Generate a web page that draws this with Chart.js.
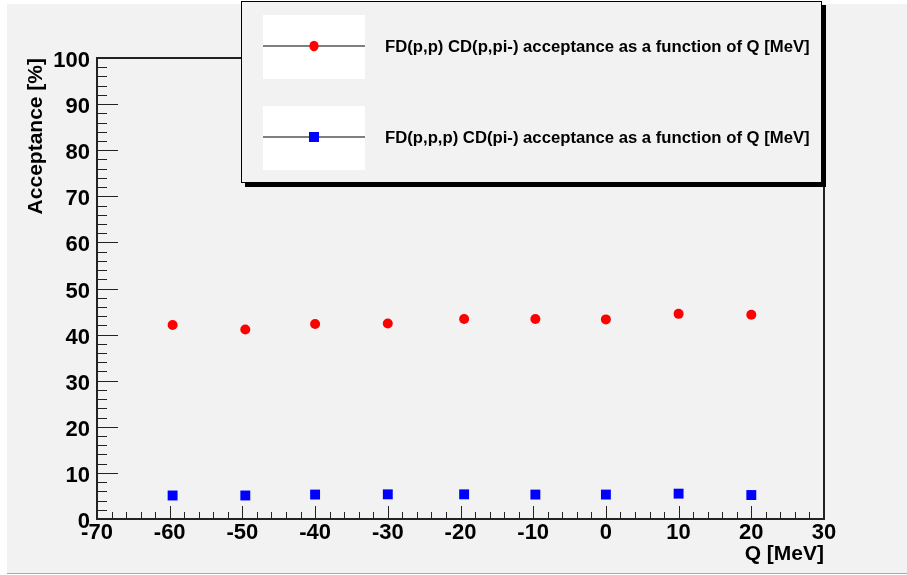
<!DOCTYPE html>
<html>
<head>
<meta charset="utf-8">
<script src="https://cdn.jsdelivr.net/npm/chart.js@4"></script>
<style>
  body { margin: 0; background: #fff; }
  canvas { display: block; }
</style>
</head>
<body>
<canvas id="myChart" width="907" height="575"></canvas>
<script>
// Q values [MeV] and acceptance [%]
var qValues = [-59.6, -49.6, -40, -30, -19.5, -9.7, 0, 10, 20]
var accPPpi = [42.1, 41.1, 42.3, 42.4, 43.4, 43.4, 43.3, 44.5, 44.3]
var accPPP = [5.1, 5.1, 5.3, 5.35, 5.35, 5.3, 5.3, 5.5, 5.2]
var seriesNames = ['FD(p,p) CD(p,pi-) acceptance as a function of Q [MeV]',
                   'FD(p,p,p) CD(pi-) acceptance as a function of Q [MeV]']
var xRange = [-70, 30]
var yRange = [0, 100]

var FONT = "'Liberation Sans', Arial, sans-serif"

function toPoints(ys) {
    return qValues.map(function(q, i) { return {x: q, y: ys[i]} })
}

var background = {
    id: 'background',
    beforeDraw: function(chart) {
        var ctx = chart.ctx
        ctx.save()
        ctx.fillStyle = '#ffffff'
        ctx.fillRect(0, 0, chart.width, chart.height)
        ctx.fillStyle = '#f2f2f2'
        ctx.fillRect(7, 4, chart.width - 7, 569)
        ctx.strokeStyle = '#aaaaaa'
        ctx.lineWidth = 1
        ctx.beginPath()
        ctx.moveTo(7, 573.5)
        ctx.lineTo(chart.width, 573.5)
        ctx.stroke()
        ctx.restore()
    }
}

// ROOT style frame with ticks pointing inwards
var frame = {
    id: 'frame',
    afterDatasetsDraw: function(chart) {
        var ctx = chart.ctx
        var a = chart.chartArea
        var xs = chart.scales.x, ys = chart.scales.y
        ctx.save()
        ctx.strokeStyle = '#222'
        ctx.lineWidth = 1
        ctx.beginPath()
        for (var v = yRange[0]; v <= yRange[1]; v += 2) {
            var py = Math.round(ys.getPixelForValue(v)) + 0.5
            var len = v % 10 == 0 ? 21 : 10
            ctx.moveTo(a.left, py)
            ctx.lineTo(a.left + len, py)
        }
        for (var u = xRange[0]; u <= xRange[1]; u += 2) {
            var px = Math.round(xs.getPixelForValue(u)) + 0.5
            var l2 = u % 10 == 0 ? 13 : 7
            ctx.moveTo(px, a.bottom)
            ctx.lineTo(px, a.bottom - l2)
        }
        ctx.stroke()
        ctx.lineWidth = 2
        ctx.strokeRect(a.left, a.top, a.right - a.left, a.bottom - a.top)
        ctx.restore()
    }
}

var rootLegend = {
    id: 'rootLegend',
    afterDraw: function(chart) {
        var ctx = chart.ctx
        ctx.save()
        // shadow + box
        ctx.fillStyle = '#000'
        ctx.fillRect(245, 5, 581, 182)
        ctx.fillStyle = '#f2f2f2'
        ctx.fillRect(241, 1, 581, 182)
        ctx.strokeStyle = '#000'
        ctx.lineWidth = 1
        ctx.strokeRect(241.5, 1.5, 580, 181)

        var rows = [46, 137]
        var styles = [
            {shape: 'circle', color: '#ff0000'},
            {shape: 'rect', color: '#0000ff'}
        ]
        for (var i = 0; i < rows.length; i++) {
            var cy = rows[i]
            ctx.fillStyle = '#ffffff'
            ctx.fillRect(263, cy - 31, 102, 64)
            ctx.strokeStyle = '#555'
            ctx.lineWidth = 1.5
            ctx.beginPath()
            ctx.moveTo(263, cy)
            ctx.lineTo(365, cy)
            ctx.stroke()
            ctx.fillStyle = styles[i].color
            if (styles[i].shape == 'circle') {
                ctx.beginPath()
                ctx.ellipse(314, cy, 4.6, 5.2, 0, 0, Math.PI * 2)
                ctx.fill()
            } else {
                ctx.fillRect(309, cy - 5, 10, 10)
            }
            ctx.fillStyle = '#000'
            ctx.font = 'bold 16.7px ' + FONT
            ctx.textAlign = 'left'
            ctx.textBaseline = 'middle'
            ctx.fillText(seriesNames[i], 385, cy + 1)
        }
        ctx.restore()
    }
}

var ctx = document.getElementById('myChart')

var myChart = new Chart(ctx, {
    type: 'scatter',
    data: {
        datasets: [
            {
                label: seriesNames[0],
                data: toPoints(accPPpi),
                pointStyle: 'circle',
                pointRadius: 5,
                backgroundColor: '#ff0000',
                borderColor: '#ff0000',
                borderWidth: 0,
                showLine: false
            },
            {
                label: seriesNames[1],
                data: toPoints(accPPP),
                pointStyle: 'rect',
                pointRadius: 7,
                backgroundColor: '#0000ff',
                borderColor: '#0000ff',
                borderWidth: 0,
                showLine: false
            }
        ]
    },
    options: {
        responsive: false,
        animation: false,
        layout: { padding: { top: 58, right: 83, left: 0, bottom: 0 } },
        plugins: {
            legend: { display: false },
            tooltip: { enabled: false }
        },
        scales: {
            x: {
                type: 'linear',
                min: xRange[0],
                max: xRange[1],
                afterFit: function(s) { s.height = 56 },
                grid: { display: false, drawTicks: false },
                border: { display: false },
                ticks: {
                    stepSize: 10,
                    autoSkip: false,
                    maxRotation: 0,
                    padding: 1,
                    color: '#000',
                    font: { family: FONT, size: 22, weight: 'bold' }
                },
                title: {
                    display: true,
                    text: 'Q [MeV]',
                    align: 'end',
                    color: '#000',
                    padding: { top: 0, bottom: 8 },
                    font: { family: FONT, size: 21, weight: 'bold' }
                }
            },
            y: {
                type: 'linear',
                min: yRange[0],
                max: yRange[1],
                afterFit: function(s) { s.width = 97 },
                grid: { display: false, drawTicks: false },
                border: { display: false },
                ticks: {
                    stepSize: 10,
                    autoSkip: false,
                    padding: 7,
                    labelOffset: 3,
                    color: '#000',
                    font: { family: FONT, size: 22, weight: 'bold' }
                },
                title: {
                    display: true,
                    text: 'Acceptance [%]',
                    align: 'end',
                    color: '#000',
                    padding: { top: 24, bottom: 0 },
                    font: { family: FONT, size: 21, weight: 'bold' }
                }
            }
        }
    },
    plugins: [background, frame, rootLegend]
})
</script>
</body>
</html>
